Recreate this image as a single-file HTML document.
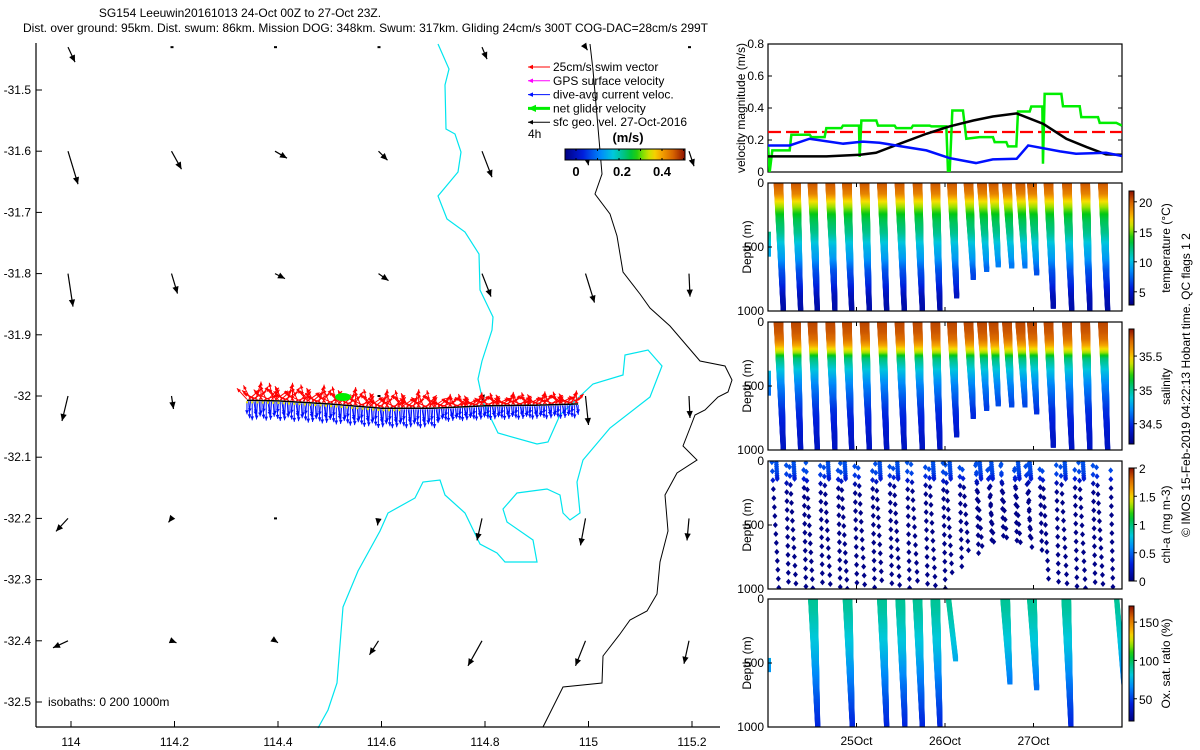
<!DOCTYPE html>
<html><head><meta charset="utf-8"><style>
html,body{margin:0;padding:0;background:#fff;}
svg{display:block;font-family:"Liberation Sans",sans-serif;}
</style></head><body>
<svg id="s" width="1200" height="750" viewBox="0 0 1200 750" xmlns="http://www.w3.org/2000/svg">
<defs>
<clipPath id="cvel"><rect x="768" y="44" width="354" height="128"/></clipPath>
<clipPath id="c0"><rect x="768" y="183" width="354" height="128"/></clipPath>
<clipPath id="c1"><rect x="768" y="322" width="354" height="128"/></clipPath>
<clipPath id="c2"><rect x="768" y="461" width="354" height="128"/></clipPath>
<clipPath id="c3"><rect x="768" y="599" width="354" height="128"/></clipPath>
<linearGradient id="jetH" x1="0" x2="1" y1="0" y2="0"></linearGradient>
<linearGradient id="jetV" x1="0" x2="0" y1="1" y2="0"></linearGradient>
</defs>
<g font-size="12" fill="#000">
<text x="240" y="17" text-anchor="middle">SG154 Leeuwin20161013 24-Oct 00Z to 27-Oct 23Z.</text>
<text x="23" y="32">Dist. over ground: 95km. Dist. swum: 86km. Mission DOG: 348km. Swum: 317km. Gliding 24cm/s 300T COG-DAC=28cm/s 299T</text>
</g>
<g id="map"></g>
<g id="right"></g>
<text font-size="12" transform="translate(1190,385) rotate(-90)" text-anchor="middle">© IMOS 15-Feb-2019 04:22:13 Hobart time. QC flags 1  2</text>
</svg>
<script>
// ---------- DATA ----------
const mapXTicks = [114, 114.2, 114.4, 114.6, 114.8, 115, 115.2];
const mapYTicks = [-31.5, -31.6, -31.7, -31.8, -31.9, -32, -32.1, -32.2, -32.3, -32.4, -32.5];
const geoLons = [114, 114.2, 114.4, 114.6, 114.8, 115, 115.2];
const geoLats = [-31.43, -31.6, -31.8, -32.0, -32.2, -32.4];
const geoU = [[7,0,0,0,5,2,0],[10,10,12,9,10,3,5],[5,6,10,10,9,9,1],[-6,2,0,0,2,3,1],[-12,-3,0,-1,-5,-5,-2],[-15,5,3,-9,-14,-10,-5]];
const geoV = [[15,0,0,0,12,3,0],[33,18,7,9,26,14,15],[33,20,5,7,23,29,23],[25,13,0,0,6,29,22],[13,4,1,7,22,27,22],[7,2,2,14,25,25,23]];
const trackLon = [114.34, 114.4, 114.5, 114.6, 114.7, 114.8, 114.9, 114.98];
const trackLat = [-32.007, -32.008, -32.013, -32.020, -32.020, -32.016, -32.015, -32.013];
const swimU = [-10,12,-7,14,-12,5,-14,9,0,-9,15,-6,11,-15,8,-4,13,-11];
const swimV = [-11,-10,-14,-8,-9,-16,-6,-13,-18,-10,-5,-14,-12,-7,-10,-17,-9,-12];
const dacU = [0,1,-1,0,2,0,-1,1];
const dacV = [13,17,11,19,14,12,18,15];

const velT = {
 dac:[0,0.245,0.47,0.85,1.07,1.26,1.49,1.79,2.05,2.35,2.54,2.81,2.94,3.30,3.48,3.82,4.0],
 geo:[0,0.66,1.04,1.22,1.49,1.79,2.05,2.32,2.54,2.81,3.11,3.37,3.6,3.82,4.0],
 net:[0,0.019,0.049,0.245,0.264,0.471,0.49,0.64,0.659,0.829,0.847,1.028,1.036,1.055,1.224,1.243,1.431,1.45,1.62,1.638,1.827,1.846,2.015,2.034,2.053,2.083,2.203,2.241,2.392,2.542,2.561,2.693,2.712,2.806,2.825,2.957,2.975,3.1,3.107,3.126,3.315,3.333,3.522,3.54,3.729,3.748,3.936,4.0]
};
const velDac = [0.166,0.166,0.208,0.177,0.19,0.183,0.162,0.135,0.087,0.056,0.079,0.083,0.166,0.129,0.114,0.12,0.10];
const velGeo = [0.098,0.098,0.108,0.12,0.177,0.239,0.285,0.322,0.347,0.366,0.301,0.208,0.156,0.11,0.108];
const velNet = [0.166,0,0.135,0.135,0.233,0.233,0.218,0.218,0.274,0.274,0.29,0.29,0.094,0.322,0.322,0.29,0.29,0.274,0.274,0.29,0.29,0.285,0.285,0,0,0.384,0.384,0.208,0.218,0.218,0.187,0.187,0.16,0.16,0.378,0.378,0.409,0.409,0.052,0.488,0.488,0.411,0.411,0.343,0.343,0.307,0.307,0.29];
const swimTarget = 0.25;

const diveT = [0.173,0.369,0.557,0.757,0.946,1.145,1.341,1.540,1.744,1.944,2.132,2.320,2.471,2.602,2.754,2.904,3.036,3.224,3.432,3.638,3.838];
const diveD = [1000,1000,1000,1000,1000,1000,1000,1000,1000,1000,888,744,679,640,653,648,705,966,1000,1000,1000];
const profDepth = [0,100,150,200,250,300,400,500,600,700,800,900,1000];
const profTemp = [20.5,19,17,15.5,14,13,12,10,9,7,6,4.5,4];
const profSal = [35.8,35.75,35.7,35.55,35.35,35.05,34.85,34.7,34.6,34.5,34.45,34.4,34.38];
const profChl = [0.45,0.4,0.25,0.05,0.03,0.02,0.02,0.02,0.02,0.02,0.02,0.02,0.02];
const profOx = [92,90,88,86,84,82,78,72,66,60,54,49,45];
const oxDiveT = [0.562,0.953,1.341,1.548,1.744,1.944,2.12,2.734,3.036,3.424,4.02];
const oxDiveD = [1000,1000,1000,1000,1000,1000,470,650,700,1000,650];
const oxDiveBoth = [1,1,1,1,1,1,0,1,1,1,0];
const timeTickDays = [1,2,3];
const timeTickLabels = ['25Oct','26Oct','27Oct'];

// ---------- HELPERS ----------
const NS='http://www.w3.org/2000/svg';
const svg=document.getElementById('s');
function mk(tag,attrs,parent){const e=document.createElementNS(NS,tag);for(const k in attrs)e.setAttribute(k,attrs[k]);(parent||svg).appendChild(e);return e;}
const stops=[[0,[0,0,130]],[0.15,[0,30,220]],[0.3,[0,140,250]],[0.4,[0,200,220]],[0.5,[0,195,120]],[0.58,[0,200,20]],[0.66,[150,225,0]],[0.73,[245,225,0]],[0.8,[245,165,0]],[0.9,[215,100,0]],[1,[140,15,0]]];
function jet(f){f=Math.max(0,Math.min(1,f));for(let i=1;i<stops.length;i++){if(f<=stops[i][0]){const a=stops[i-1],b=stops[i];const r=(f-a[0])/(b[0]-a[0]);const c=a[1].map((v,j)=>Math.round(v+(b[1][j]-v)*r));return 'rgb('+c.join(',')+')';}}return 'rgb(140,15,0)';}
['jetH','jetV'].forEach(id=>{const g=document.getElementById(id);for(let i=0;i<=20;i++){mk('stop',{offset:i/20,'stop-color':jet(i/20)},g);}});
function interp(xs,ys,x){if(x<=xs[0])return ys[0];for(let i=1;i<xs.length;i++){if(x<=xs[i]){const r=(x-xs[i-1])/(xs[i]-xs[i-1]);return ys[i-1]+(ys[i]-ys[i-1])*r;}}return ys[ys.length-1];}

// ---------- MAP ----------
const map=document.getElementById('map');
const mx=lon=>71+(lon-114)/0.2*103.5;
const my=lat=>90+(-31.5-lat)/0.1*61.2;
function arrow(x1,y1,x2,y2,col,w,hs,parent,name){
 const g=mk('g',{},parent);
 
 
 mk('line',{x1:x1,y1:y1,x2:x2,y2:y2,stroke:col,'stroke-width':w},g);
 const dx=x2-x1,dy=y2-y1,L=Math.hypot(dx,dy);if(L<0.5)return g;
 const ux=dx/L,uy=dy/L;const bx=x2-ux*hs,by=y2-uy*hs;
 mk('polygon',{points:x2+','+y2+' '+(bx-uy*hs*0.45)+','+(by+ux*hs*0.45)+' '+(bx+uy*hs*0.45)+','+(by-ux*hs*0.45),fill:col},g);
 return g;
}
const cyanPts=[[438,44],[449,69],[445,85],[446,129],[455,134],[461,152],[458,172],[438,196],[447,219],[465,232],[479,254],[480,290],[493,317],[492,330],[482,361],[478,379],[483,402],[498,433],[537,444],[548,442],[560,415],[593,384],[623,375],[625,355],[648,350],[662,366],[650,397],[610,428],[583,460],[577,482],[580,513],[570,520],[563,513],[560,495],[547,489],[517,493],[503,509],[507,522],[533,540],[537,562],[505,562],[497,553],[480,544],[465,513],[445,495],[440,480],[423,482],[415,498],[388,513],[380,531],[358,571],[343,607],[337,683],[328,710],[318,728]];
const c1=mk('polyline',{points:cyanPts.map(p=>p.join(',')).join(' '),fill:'none',stroke:'#00e5ee','stroke-width':1.2},map);


const blackPts=[[590,44],[593,70],[597,116],[602,174],[595,194],[610,214],[617,236],[623,272],[640,294],[650,308],[670,326],[700,361],[725,366],[732,380],[728,392],[718,397],[705,410],[695,415],[690,428],[683,446],[697,460],[677,473],[665,495],[668,531],[660,562],[657,594],[647,611],[630,620],[620,634],[603,656],[602,683],[563,687],[543,727]];
const b1=mk('polyline',{points:blackPts.map(p=>p.join(',')).join(' '),fill:'none',stroke:'#000','stroke-width':1},map);


mk('line',{x1:36,y1:43,x2:36,y2:727,stroke:'#000','stroke-width':1.2},map);
mk('line',{x1:36,y1:727,x2:720,y2:727,stroke:'#000','stroke-width':1.2},map);
mapXTicks.forEach(v=>{const x=mx(v);mk('line',{x1:x,y1:727,x2:x,y2:721,stroke:'#000'},map);const t=mk('text',{x:x,y:746,'font-size':12,'text-anchor':'middle'},map);t.textContent=String(v);
 
 });
mapYTicks.forEach(v=>{const y=my(v);mk('line',{x1:36,y1:y,x2:42,y2:y,stroke:'#000'},map);const t=mk('text',{x:31,y:y+4,'font-size':12,'text-anchor':'end'},map);t.textContent=String(v);
 
 });
const iso=mk('text',{x:48,y:706,'font-size':12},map);iso.textContent='isobaths: 0   200  1000m';


iso.setAttribute('xml:space','preserve');
geoLats.forEach((lat,r)=>geoLons.forEach((lon,c)=>{const x=mx(lon)-3,y=my(lat);const u=geoU[r][c],v=geoV[r][c];
 if(Math.hypot(u,v)<1.5){mk('rect',{x:x-1,y:y-1,width:3,height:2,fill:'#000'},map);return;}
 arrow(x,y,x+u,y+v,'#000',1.2,7,map,'geo-velocity-arrow');}));
const N=190;
const trk=[];
for(let i=0;i<N;i++){const lon=trackLon[0]+(trackLon[trackLon.length-1]-trackLon[0])*i/(N-1);trk.push([mx(lon),my(interp(trackLon,trackLat,lon))]);}
trk.forEach((p,i)=>{arrow(p[0],p[1]+1,p[0]+dacU[i%8],p[1]+1+dacV[i%8]*(i<110?1:0.7),'#0010ff',1,4,map,'dac-arrow');});
trk.forEach((p,i)=>{arrow(p[0],p[1]-1,p[0]+swimU[i%18],p[1]-1+swimV[i%18]*(i<110?1:0.7),'#ff0000',1,4,map,'swim-arrow');});
const tl=mk('polyline',{points:trk.map(p=>p.join(',')).join(' '),fill:'none',stroke:'#000','stroke-width':1.5},map);


trk.forEach((p,i)=>{if(i%3===0&&i<90)mk('rect',{x:p[0]-1,y:p[1]+1,width:2,height:2,fill:'#e8e800'},map);});
const ng=mk('ellipse',{cx:343,cy:397,rx:8,ry:4,fill:'#00ee00'},map);


const leg=mk('g',{'font-size':12},map);


const legItems=[['25cm/s swim vector','#ff0000',1],['GPS surface velocity','#ff00ff',1],['dive-avg current veloc.','#0010ff',1],['net glider velocity','#00ee00',3],['sfc geo. vel. 27-Oct-2016','#000',1]];
legItems.forEach((it,i)=>{const y=67+i*13.8;arrow(550,y,528,y,it[1],it[2],it[2]>1?8:5,leg,'legend-arrow');const t=mk('text',{x:553,y:y+4},leg);t.textContent=it[0];
 
 });
const h4=mk('text',{x:528,y:138},leg);h4.textContent='4h';
const ms=mk('text',{x:628,y:142,'font-weight':'bold','text-anchor':'middle','font-size':13},leg);ms.textContent='(m/s)';
const cb=mk('rect',{x:565,y:149,width:120,height:11,fill:'url(#jetH)',stroke:'#000','stroke-width':1},leg);


[0,0.1,0.2,0.3,0.4,0.5].forEach(v=>{const x=576+v*215;mk('line',{x1:x,y1:149,x2:x,y2:151,stroke:'#000'},leg);mk('line',{x1:x,y1:160,x2:x,y2:158,stroke:'#000'},leg);});
[['0',576],['0.2',622],['0.4',662]].forEach(a=>{const t=mk('text',{x:a[1],y:176,'text-anchor':'middle','font-weight':'bold','font-size':13},leg);t.textContent=a[0];});

// ---------- RIGHT PANELS ----------
const R=document.getElementById('right');
const tx=d=>768+d/4*354;
const vy=v=>172-v/0.8*128;
const vp=mk('g',{},R);


mk('rect',{x:768,y:44,width:354,height:128,fill:'none',stroke:'#000','stroke-width':1.2},vp);
[0,0.2,0.4,0.6,0.8].forEach(v=>{const y=vy(v);mk('line',{x1:768,y1:y,x2:772,y2:y,stroke:'#000'},vp);mk('line',{x1:1122,y1:y,x2:1118,y2:y,stroke:'#000'},vp);const t=mk('text',{x:764,y:y+4,'font-size':12,'text-anchor':'end'},vp);t.textContent=String(v);
 
 });
const vl=mk('text',{'font-size':12,'text-anchor':'middle',transform:'translate(745,108) rotate(-90)'},vp);vl.textContent='velocity magnitude (m/s)';


const vg=mk('g',{'clip-path':'url(#cvel)'},vp);
const rd=mk('line',{x1:768,y1:vy(swimTarget),x2:1122,y2:vy(swimTarget),stroke:'#ff0000','stroke-width':2.2,'stroke-dasharray':'13,5'},vg);


function vline(ts,vs,col,name){const p=mk('polyline',{points:ts.map((t,i)=>tx(t)+','+vy(vs[i])).join(' '),fill:'none',stroke:col,'stroke-width':2.5},vg);
 
 }
vline(velT.net,velNet,'#00ee00','net-velocity-line');
vline(velT.geo,velGeo,'#000','geo-velocity-line');
vline(velT.dac,velDac,'#0010ff','dac-velocity-line');

const tops=[183,322,461,599];
const cbars=[
 {min:2.8,max:21.8,ticks:[5,10,15,20],label:'temperature (°C)',prof:profTemp,name:'temperature'},
 {min:34.2,max:35.9,ticks:[34.5,35,35.5],label:'salinity',prof:profSal,name:'salinity'},
 {min:0,max:2,ticks:[0,0.5,1,1.5,2],label:'chl-a (mg m-3)',prof:profChl,name:'chlorophyll'},
 {min:21,max:171,ticks:[50,100,150],label:'Ox. sat. ratio (%)',prof:profOx,name:'oxygen'}];
const cbBox=[[191,305],[329,444],[468,581],[606,721]];
const A=0.08,B=0.028; // descent / ascent lead (days) at surface
cbars.forEach((cf,k)=>{
 const top=tops[k],bot=top+128;
 const dy=d=>top+d/1000*128;
 const g=mk('g',{},R);
 
 
 const sg=mk('g',{'clip-path':'url(#c'+k+')'},g);
 const col=d=>jet((interp(profDepth,cf.prof,d)-cf.min)/(cf.max-cf.min));
 const legT=(tb,D,d,s)=>tb-(s?B:A)*(1-d/D);
 if(k<2){
  diveT.forEach((tb,i)=>{const D=diveD[i];
   for(let d=0;d<=D;d+=9){const c=col(d);[0,1].forEach(s=>{mk('rect',{x:tx(legT(tb,D,d,s))-2.5,y:dy(d)-2.5,width:5,height:5,fill:c},sg);});}
  });
  for(let d=400;d<=560;d+=12)mk('rect',{x:766,y:dy(d)-2.5,width:5,height:5,fill:col(d)},sg);
 } else if(k===2){
  diveT.forEach((tb,i)=>{const D=diveD[i];
   [0,1].forEach(s=>{const off=((i*37+s*23)%70)+10;
    for(let d=off;d<=D;d+=70){const t=legT(tb,D,d,s)+(s?0.06:-0.05);mk('polygon',{points:[[0,-3],[2.5,0],[0,3],[-2.5,0]].map(p=>(tx(t)+p[0])+','+(dy(d)+p[1])).join(' '),fill:col(d)},sg);}
   });
   if(i%3!==2)for(let d=0;d<=150;d+=14){const t=legT(tb,D,d,0);mk('polygon',{points:[[0,-3],[2.5,0],[0,3],[-2.5,0]].map(p=>(tx(t)+p[0])+','+(dy(d)+p[1])).join(' '),fill:col(d)},sg);}
  });
 } else {
  oxDiveT.forEach((tb,i)=>{const D=oxDiveD[i];
   for(let d=0;d<=D;d+=9){const c=col(d);const ss=oxDiveBoth[i]?[0,1]:[0];ss.forEach(s=>{mk('rect',{x:tx(legT(tb,D,d,s))-2.5,y:dy(d)-2.5,width:5,height:5,fill:c},sg);});}
  });
  for(let d=480;d<=560;d+=12)mk('rect',{x:766,y:dy(d)-2.5,width:5,height:5,fill:col(d)},sg);
 }
 mk('rect',{x:768,y:top,width:354,height:128,fill:'none',stroke:'#000','stroke-width':1.2},g);
 [0,500,1000].forEach(d=>{const y=dy(d);mk('line',{x1:768,y1:y,x2:772,y2:y,stroke:'#000'},g);const t=mk('text',{x:764,y:y+4,'font-size':12,'text-anchor':'end'},g);t.textContent=String(d);
  
  });
 timeTickDays.forEach(d=>{mk('line',{x1:tx(d),y1:bot,x2:tx(d),y2:bot-4,stroke:'#000'},g);mk('line',{x1:tx(d),y1:top,x2:tx(d),y2:top+4,stroke:'#000'},g);});
 const yl=mk('text',{'font-size':12,'text-anchor':'middle',transform:'translate(751,'+(top+64)+') rotate(-90)'},g);yl.textContent='Depth (m)';
 
 
 const [cT,cB]=cbBox[k];
 const cr=mk('rect',{x:1129,y:cT,width:5,height:cB-cT,fill:'url(#jetV)',stroke:'#000','stroke-width':1},g);
 
 
 cf.ticks.forEach(v=>{const y=cB-(v-cf.min)/(cf.max-cf.min)*(cB-cT);mk('line',{x1:1134,y1:y,x2:1137,y2:y,stroke:'#000'},g);const t=mk('text',{x:1139,y:y+5,'font-size':12},g);t.textContent=String(v);
  
  });
 const cl=mk('text',{'font-size':12,'text-anchor':'middle',transform:'translate(1170,'+((cT+cB)/2)+') rotate(-90)'},g);cl.textContent=cf.label;
 
 
});
timeTickDays.forEach((d,i)=>{const t=mk('text',{x:tx(d),y:745,'font-size':12,'text-anchor':'middle'},R);t.textContent=timeTickLabels[i];
 
 });
</script>
</body></html>
